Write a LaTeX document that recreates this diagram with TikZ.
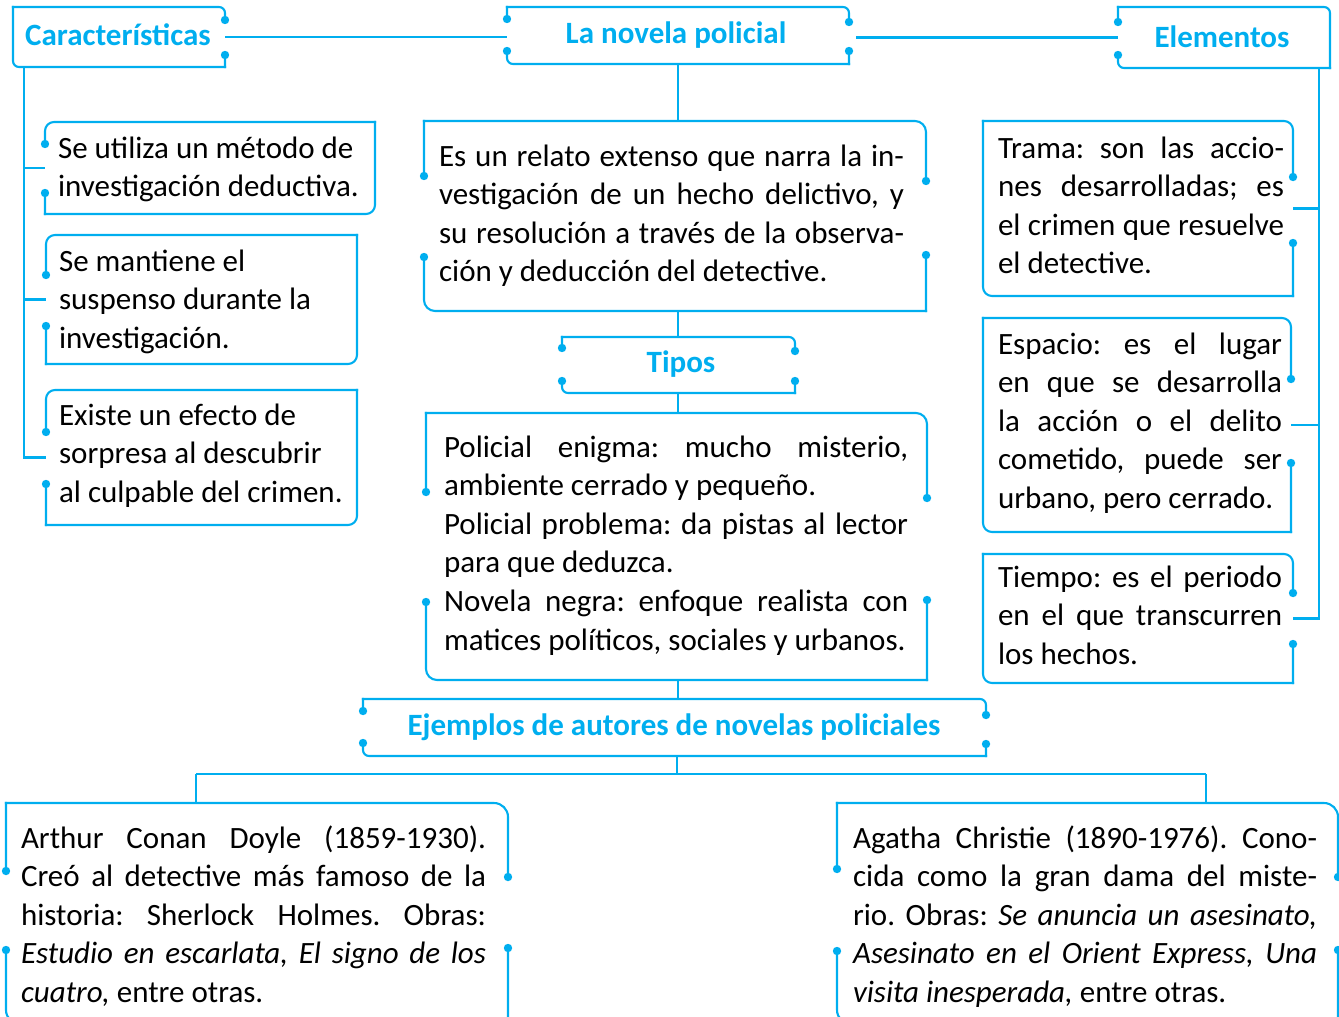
\documentclass[tikz,border=0pt]{standalone}
\usepackage{fontspec}
\setmainfont{Carlito}
\usetikzlibrary{fit}
\definecolor{cy}{RGB}{0,174,239}
\frenchspacing
\newcommand\frA[2]{%
  \draw[line cap=rect, rounded corners=#2] (#1.north west) -- (#1.north east) -- (#1.south east);
  \draw[line cap=rect, rounded corners=#2] (#1.south east) -- (#1.south west) -- (#1.north west);}
\newcommand\frB[2]{%
  \draw[line cap=rect, rounded corners=#2] (#1.south west) -- (#1.north west) -- (#1.north east);
  \draw[line cap=rect, rounded corners=#2] (#1.north east) -- (#1.south east) -- (#1.south west);}
\newcommand\gpL[3]{%
  \draw[white, line width=7pt] (#1.west |- 0,#2) -- (#1.west |- 0,#3);
  \fill[cy] (#1.west |- 0,#2) circle[radius=4.2pt];
  \fill[cy] (#1.west |- 0,#3) circle[radius=4.2pt];}
\newcommand\gpR[3]{%
  \draw[white, line width=7pt] (#1.east |- 0,#2) -- (#1.east |- 0,#3);
  \fill[cy] (#1.east |- 0,#2) circle[radius=4.2pt];
  \fill[cy] (#1.east |- 0,#3) circle[radius=4.2pt];}
\newcommand\jl[2]{\makebox[#1pt][s]{#2}}
\begin{document}
\begin{tikzpicture}[x=1pt,y=-1pt, line width=2.1pt, draw=cy,
  fr/.style={inner sep=0pt, outer sep=0pt, rectangle},
  ttl/.style={font=\fontsize{31}{38}\selectfont\bfseries, text=cy, anchor=base, inner sep=0pt},
  txt/.style={font=\fontsize{31}{38.6}\selectfont\frenchspacing, text=black, anchor=north west, inner sep=0pt, align=left}]
\clip (0,0) rectangle (1339,1017);
\useasboundingbox (0,0) rectangle (1339,1017);
% frames
\node[fr, fit={(13,7)(225,67)}] (car) {};
\node[fr, fit={(507,7)(849,64)}] (nov) {};
\node[fr, fit={(1118,7)(1330,68)}] (ele) {};
\node[fr, fit={(45,122)(375,214)}] (util) {};
\node[fr, fit={(46,235)(357,364)}] (mant) {};
\node[fr, fit={(46,390)(357,525)}] (exis) {};
\node[fr, fit={(424,121)(926,311)}] (def) {};
\node[fr, fit={(562,337)(795,393)}] (tip) {};
\node[fr, fit={(426,413)(927,680)}] (pol) {};
\node[fr, fit={(363,699)(986,756)}] (ejem) {};
\node[fr, fit={(983,121)(1293,296)}] (trama) {};
\node[fr, fit={(983,318)(1291,532)}] (esp) {};
\node[fr, fit={(983,554)(1293,683)}] (tiem) {};
\node[fr, fit={(6,803)(508,1024)}] (art) {};
\node[fr, fit={(837,803)(1338,1024)}] (aga) {};
\frA{car}{6pt} \gpR{car}{20}{55}
\frA{nov}{6pt} \gpL{nov}{19}{51} \gpR{nov}{22}{51}
\frA{ele}{6pt} \gpL{ele}{22}{55}
\frB{util}{9pt} \gpL{util}{144}{193}
\frB{mant}{9pt} \gpL{mant}{275}{326}
\frB{exis}{9pt} \gpL{exis}{432}{484}
\frA{def}{11pt} \gpL{def}{176}{257} \gpR{def}{181}{255}
\frA{tip}{6pt} \gpL{tip}{348}{381} \gpR{tip}{351}{381}
\frA{pol}{11pt} \gpL{pol}{492}{602} \gpR{pol}{498}{600}
\frA{ejem}{6pt} \gpL{ejem}{711}{743} \gpR{ejem}{715}{744}
\frA{trama}{9pt} \gpR{trama}{177}{243}
\frA{esp}{9pt} \gpR{esp}{379}{463}
\frA{tiem}{9pt} \gpR{tiem}{593}{644}
\frA{art}{14pt} \gpL{art}{871}{950} \gpR{art}{877}{948}
\frA{aga}{14pt} \gpL{aga}{869}{951} \gpR{aga}{877}{950}
% connectors
\draw (car.east) -- (car.east -| nov.west);
\draw[shorten <=7pt] (nov.east |- ele.west) -- (ele.west);
\coordinate (cl) at ([xshift=11pt]car.south west);
\draw (cl) |- (exis.west);
\draw (cl |- util.west) -- (util.west);
\draw (cl |- mant.west) -- (mant.west);
\draw (nov.south) -- (nov.south |- def.north);
\draw (def.south -| nov.south) -- (nov.south |- tip.north);
\draw (tip.south -| nov.south) -- (nov.south |- pol.north);
\draw (pol.south -| nov.south) -- (nov.south |- ejem.north);
\coordinate (jn) at (677,774);
\coordinate (ja) at (196,774);
\coordinate (jb) at (1206,774);
\draw (ejem.south -| jn) -- (jn);
\draw (ja) -- (jb);
\draw (ja) -- (ja |- art.north);
\draw (jb) -- (jb |- aga.north);
\coordinate (cr) at ([xshift=-11pt]ele.south east);
\draw (cr) |- (tiem.east);
\draw (cr |- trama.east) -- (trama.east);
\draw (cr |- esp.east) -- (esp.east);
% titles
\node[ttl] (car-t) at (118,45) {Características};
\node[ttl] (nov-t) at (676,43) {La novela policial};
\node[ttl] (ele-t) at (1222,47) {Elementos};
\node[ttl] (tip-t) at (681,372) {Tipos};
\node[ttl] (ejem-t) at (674,735) {Ejemplos de autores de novelas policiales};
% texts
\node[txt] (util-t) at (57,131) {\rule{0pt}{26pt}Se utiliza un método de\\investigación deductiva.};
\node[txt] (mant-t) at (58,244) {\rule{0pt}{26pt}Se mantiene el\\suspenso durante la\\investigación.};
\node[txt] (exis-t) at (58,398) {\rule{0pt}{26pt}Existe un efecto de\\sorpresa al descubrir\\al culpable del crimen.};
\node[txt] (def-t) at (438,139) {\rule{0pt}{26pt}\jl{465}{Es un relato extenso que narra la in-}\\
  \jl{465}{vestigación de un hecho delictivo, y}\\
  \jl{465}{su resolución a través de la observa-}\\
  ción y deducción del detective.};
\node[txt] (pol-t) at (443,430) {\rule{0pt}{26pt}\jl{464}{Policial enigma: mucho misterio,}\\
  ambiente cerrado y pequeño.\\
  \jl{464}{Policial problema: da pistas al lector}\\
  para que deduzca.\\
  \jl{464}{Novela negra: enfoque realista con}\\
  matices políticos, sociales y urbanos.};
\node[txt] (trama-t) at (997,131) {\rule{0pt}{26pt}\jl{286}{Trama: son las accio-}\\
  \jl{286}{nes desarrolladas; es}\\
  \jl{286}{el crimen que resuelve}\\
  el detective.};
\node[txt] (esp-t) at (997,327) {\rule{0pt}{26pt}\jl{284}{Espacio: es el lugar}\\
  \jl{284}{en que se desarrolla}\\
  \jl{284}{la acción o el delito}\\
  \jl{284}{cometido, puede ser}\\
  urbano, pero cerrado.};
\node[txt] (tiem-t) at (997,560) {\rule{0pt}{26pt}\jl{284}{Tiempo: es el periodo}\\
  \jl{284}{en el que transcurren}\\
  los hechos.};
\node[txt] (art-t) at (20,821) {\rule{0pt}{26pt}\jl{465}{Arthur Conan Doyle (1859-1930).}\\
  \jl{465}{Creó al detective más famoso de la}\\
  \jl{465}{historia: Sherlock Holmes. Obras:}\\
  \jl{465}{\itshape Estudio en escarlata, El signo de los}\\
  \textit{cuatro,} entre otras.};
\node[txt] (aga-t) at (852,821) {\rule{0pt}{26pt}\jl{464}{Agatha Christie (1890-1976). Cono-}\\
  \jl{464}{cida como la gran dama del miste-}\\
  \jl{464}{rio. Obras: \itshape Se anuncia un asesinato,}\\
  \jl{464}{\itshape Asesinato en el Orient Express, Una}\\
  \textit{visita inesperada,} entre otras.};
\end{tikzpicture}
\end{document}
